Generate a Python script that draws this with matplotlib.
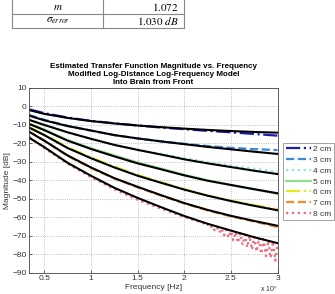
import numpy as np
import matplotlib.pyplot as plt
from matplotlib.lines import Line2D

plt.rcParams['font.family'] = ['Liberation Sans', 'DejaVu Sans']
plt.rcParams['mathtext.fontset'] = 'stix'

# frequency grid (GHz) of the read-off points
freq = [0.34, 0.5, 0.75, 1.0, 1.25, 1.5, 1.75, 2.0, 2.25, 2.5, 2.75, 3.0]

# measured magnitude (dB) per depth
meas_2 = [-1.6, -3.6, -6.0, -7.8, -9.1, -10.3, -11.4, -12.3, -13.2, -14.0, -14.9, -15.8]
meas_3 = [-4.6, -7.2, -10.5, -13.1, -15.5, -17.3, -18.9, -20.2, -21.4, -22.4, -23.1, -23.6]
meas_4 = [-7.0, -9.8, -14.0, -17.6, -20.8, -23.4, -25.7, -28.0, -30.1, -32.0, -33.7, -35.3]
meas_5 = [-9.2, -12.5, -18.2, -22.6, -26.5, -30.3, -33.6, -37.0, -40.0, -42.5, -44.9, -47.3]
meas_6 = [-11.2, -15.2, -22.0, -27.6, -32.5, -37.0, -41.0, -44.8, -48.2, -51.0, -53.4, -55.6]
meas_7 = [-13.5, -18.5, -26.8, -33.3, -39.0, -43.8, -48.2, -52.5, -56.3, -59.5, -62.3, -65.3]
freq_8 = [0.34, 0.5, 0.75, 1.0, 1.25, 1.5, 1.75, 2.0, 2.2, 2.225, 2.25, 2.275, 2.3,
          2.325, 2.35, 2.375, 2.4, 2.425, 2.45, 2.475, 2.5, 2.525, 2.55, 2.575,
          2.6, 2.625, 2.65, 2.675, 2.7, 2.725, 2.75, 2.775, 2.8, 2.825, 2.85,
          2.875, 2.9, 2.925, 2.95, 2.975, 3.0]
meas_8 = [-16.5, -22.5, -31.0, -38.2, -44.8, -50.5, -55.3, -59.8, -63.0, -64.5, -63.8,
          -65.8, -64.6, -67.0, -65.3, -68.3, -66.0, -69.8, -66.7, -71.0, -67.4, -72.5,
          -68.0, -73.8, -68.6, -75.0, -69.3, -76.3, -70.0, -77.5, -70.6, -78.6, -71.2,
          -79.8, -71.8, -81.0, -72.5, -82.0, -73.0, -83.5, -74.0]

# model fits (dB)
fit_2 = [-2.0, -4.0, -6.2, -7.9, -9.2, -10.3, -11.2, -12.0, -12.7, -13.3, -13.8, -14.2]
fit_3 = [-5.0, -7.5, -10.6, -13.0, -15.5, -17.3, -18.9, -20.4, -21.9, -23.2, -24.5, -25.7]
fit_4 = [-7.3, -10.0, -14.0, -17.5, -20.8, -23.5, -26.0, -28.6, -30.8, -32.8, -34.8, -36.6]
fit_5 = [-9.5, -12.8, -18.5, -23.0, -27.0, -30.8, -34.0, -37.3, -40.2, -42.5, -44.8, -47.0]
fit_6 = [-11.5, -15.5, -22.5, -28.0, -33.0, -37.5, -41.3, -45.0, -48.3, -51.2, -53.8, -56.2]
fit_7 = [-13.8, -18.5, -26.5, -33.0, -38.8, -43.5, -48.0, -52.3, -56.0, -59.2, -62.0, -64.6]
fit_8 = [-17.0, -22.0, -30.5, -37.5, -44.0, -49.5, -54.5, -59.3, -63.5, -67.2, -70.8, -74.0]

labels = ["2 cm", "3 cm", "4 cm", "5 cm", "6 cm", "7 cm", "8 cm"]
colors = ['#1c1cb4', '#3a88d8', '#8ee4e4', '#90e090', '#e8e820', '#f09030', '#f06878']
styles = ['-.', '--', ':', '-', '-.', '--', ':']

xs = [freq] * 6 + [freq_8]
meas = [meas_2, meas_3, meas_4, meas_5, meas_6, meas_7, meas_8]
fits = [fit_2, fit_3, fit_4, fit_5, fit_6, fit_7, fit_8]

fig = plt.figure(figsize=(3.35, 2.94), dpi=100)
ax = fig.add_axes([0.0875, 0.0724, 0.7412, 0.6283])

for x, y, c, s, l in zip(xs, meas, colors, styles, labels):
    ax.plot(x, y, color=c, linestyle=s, lw=1.6, label=l)
for y in fits:
    ax.plot(freq, y, color='k', lw=1.5)

ax.set_xlim(0.34, 3.0)
ax.set_ylim(-90, 10)
ax.set_xticks([0.5, 1, 1.5, 2, 2.5, 3])
ax.set_yticks(np.arange(-90, 11, 10))
ax.xaxis.set_major_formatter(plt.FuncFormatter(lambda v, p: "%g" % v))
ax.tick_params(direction='in', length=2, width=0.5, labelsize=6, colors='#333333', pad=2)
ax.grid(True, linestyle=':', color='#aaaaaa', lw=0.6)
for sp in ax.spines.values():
    sp.set_linewidth(0.6)
    sp.set_color('#444444')

ax.set_title("Estimated Transfer Function Magnitude vs. Frequency\n"
             "Modified Log-Distance Log-Frequency Model\n"
             "Into Brain from Front", fontsize=5.8, fontweight='bold', pad=3,
             linespacing=1.15)
ax.set_xlabel("Frequency [Hz]", fontsize=6, color='#333333', labelpad=1)
ax.set_ylabel("Magnitude [dB]", fontsize=6, color='#333333', labelpad=1)
fig.text(0.776, 0.008, r"x 10$^9$", fontsize=5, color='#333333')

leg = ax.legend(loc='upper left', bbox_to_anchor=(283 / 335, 1 - 143 / 294),
                bbox_transform=fig.transFigure, fontsize=6, frameon=True,
                fancybox=False, borderpad=0.3, handlelength=3.0, handletextpad=0.3,
                labelspacing=0.35, borderaxespad=0)
leg.get_frame().set_edgecolor('#777777')
leg.get_frame().set_linewidth(0.6)
for t in leg.get_texts():
    t.set_color('#333333')

# partial table at the top
W, H = 335.0, 294.0
tcol = '#888888'
for xv in [12, 103, 184]:
    fig.add_artist(Line2D([xv / W, xv / W], [1, 1 - 28 / H], color=tcol, lw=0.8))
for yv in [13.5, 28]:
    fig.add_artist(Line2D([12 / W, 184 / W], [1 - yv / H, 1 - yv / H], color=tcol, lw=0.8))
fig.text(58 / W, 1 - 7 / H, r"$m$", fontsize=8, ha='center', va='center')
fig.text(179 / W, 1 - 7 / H, r"$\mathrm{1.072}$", fontsize=8, ha='right', va='center')
fig.text(58 / W, 1 - 21 / H, r"$\sigma_{error}$", fontsize=8, ha='center', va='center')
fig.text(179 / W, 1 - 21 / H, r"$\mathrm{1.030}\ dB$", fontsize=8, ha='right', va='center')

fig.savefig("out.png", dpi=100)
